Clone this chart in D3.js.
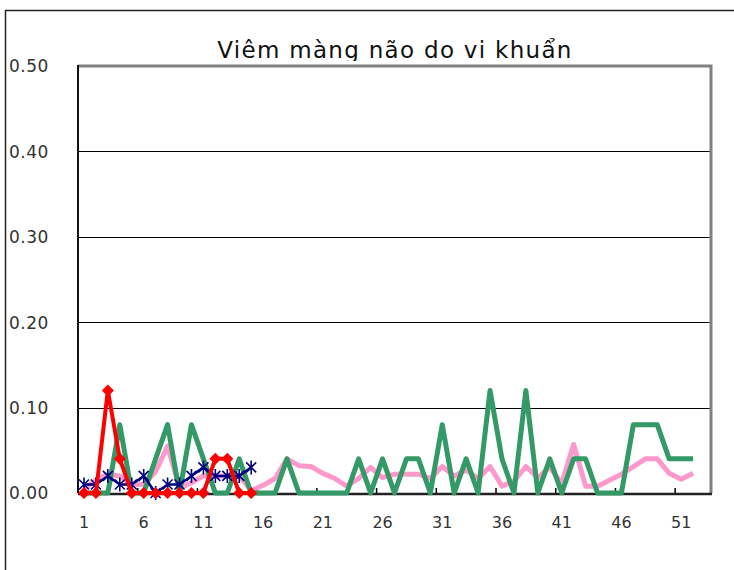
<!DOCTYPE html>
<html>
<head>
<meta charset="utf-8">
<script src="https://cdn.jsdelivr.net/npm/d3@7"></script>
<style>
  body { margin: 0; background: #fff; }
  svg { display: block; font-family: "DejaVu Sans", sans-serif; }
</style>
</head>
<body>
<div id="chart"></div>
<script>
// weeks 1..53 on the category axis
const weeks = d3.range(1, 54);
const tickWeeks = [1, 6, 11, 16, 21, 26, 31, 36, 41, 46, 51];
const title = "Viêm màng não do vi khuẩn";

// series values, one per week (shorter series stop early)
const navy = [0.01, 0.01, 0.02, 0.01, 0.01, 0.02, 0, 0.01, 0.01, 0.02, 0.03, 0.02, 0.02, 0.02, 0.03];
const red = [0, 0, 0.12, 0.04, 0, 0, 0, 0, 0, 0, 0, 0.04, 0.04, 0, 0];
const pink = [0.005, 0.015, 0.022, 0.02, 0.01, 0.01, 0.025, 0.055, 0.006, 0.012,
  0.02, 0.02, 0.02, 0.02, 0.003, 0.009, 0.017, 0.04, 0.032, 0.031,
  0.023, 0.017, 0.008, 0.017, 0.03, 0.018, 0.022, 0.022, 0.022, 0.017,
  0.031, 0.02, 0.027, 0.017, 0.031, 0.008, 0.014, 0.031, 0.018, 0.03,
  0.011, 0.057, 0.008, 0.008, 0.015, 0.022, 0.031, 0.04, 0.04, 0.023,
  0.016, 0.023];
const green = [0, 0, 0, 0.08, 0, 0, 0.04, 0.08, 0, 0.08,
  0.04, 0, 0, 0.04, 0, 0, 0, 0.04, 0, 0,
  0, 0, 0, 0.04, 0, 0.04, 0, 0.04, 0.04, 0,
  0.08, 0, 0.04, 0, 0.12, 0.04, 0, 0.12, 0, 0.04,
  0, 0.04, 0.04, 0, 0, 0, 0.08, 0.08, 0.08, 0.04,
  0.04, 0.04];

const width = 734;
const height = 570;
const plot = {left: 78, top: 66, right: 711, bottom: 493};

const svg = d3.select("#chart").append("svg")
  .attr("width", width)
  .attr("height", height);

// chart frame (only top and left edges are inside the window)
svg.append("path")
  .attr("d", `M5.5,${height} V10.5 H${width}`)
  .attr("fill", "none")
  .attr("stroke", "#222")
  .attr("stroke-width", 1.5);

const x = d3.scaleBand(weeks, [plot.left, plot.right]).padding(0);
const y = d3.scaleLinear([0, 0.5], [plot.bottom, plot.top]);
const cx = d => x(d) + x.bandwidth() / 2;

// gridlines
svg.append("g")
  .selectAll("line")
  .data(y.ticks(5).filter(d => d > 0 && d < 0.5))
  .join("line")
  .attr("x1", plot.left)
  .attr("x2", plot.right)
  .attr("y1", d => Math.round(y(d)) + 0.5)
  .attr("y2", d => Math.round(y(d)) + 0.5)
  .attr("stroke", "#000")
  .attr("stroke-width", 1.2);

// plot border: grey top/right, black axes left/bottom
svg.append("path")
  .attr("d", `M${plot.left},${plot.top} H${plot.right} V${plot.bottom}`)
  .attr("fill", "none")
  .attr("stroke", "#808080")
  .attr("stroke-width", 3);

svg.append("line")
  .attr("x1", plot.left).attr("x2", plot.left)
  .attr("y1", plot.top - 1).attr("y2", plot.bottom)
  .attr("stroke", "#111").attr("stroke-width", 2);

svg.append("line")
  .attr("x1", plot.left).attr("x2", plot.right + 1)
  .attr("y1", plot.bottom + 1).attr("y2", plot.bottom + 1)
  .attr("stroke", "#222").attr("stroke-width", 2.5);

// x tick marks at category boundaries, pointing inward
svg.append("g")
  .selectAll("line")
  .data(tickWeeks)
  .join("line")
  .attr("x1", d => x(d))
  .attr("x2", d => x(d))
  .attr("y1", plot.bottom - 5)
  .attr("y2", plot.bottom)
  .attr("stroke", "#000")
  .attr("stroke-width", 1.5);

// y labels sit against the left frame edge
svg.append("g")
  .selectAll("text")
  .data(y.ticks(5))
  .join("text")
  .attr("x", 9)
  .attr("y", d => y(d))
  .attr("dy", "0.38em")
  .attr("font-size", 17)
  .attr("letter-spacing", 0.5)
  .attr("fill", "#333")
  .text(d3.format(".2f"));

svg.append("g")
  .selectAll("text")
  .data(tickWeeks)
  .join("text")
  .attr("x", d => cx(d))
  .attr("y", 522)
  .attr("dy", "0.35em")
  .attr("text-anchor", "middle")
  .attr("font-size", 16)
  .attr("fill", "#333")
  .text(d => d);

// title, clipped by the plot top like the original
svg.append("clipPath")
  .attr("id", "title-clip")
  .append("rect")
  .attr("x", 0)
  .attr("y", 0)
  .attr("width", width)
  .attr("height", 61);

svg.append("text")
  .attr("clip-path", "url(#title-clip)")
  .attr("x", 395)
  .attr("y", 58)
  .attr("text-anchor", "middle")
  .attr("font-size", 23)
  .attr("letter-spacing", 1.3)
  .attr("fill", "#111")
  .text(title);

const line = d3.line()
  .x((d, i) => cx(weeks[i]))
  .y(d => y(d));

const drawLine = (values, color, w) => {
  svg.append("path")
    .attr("d", line(values))
    .attr("fill", "none")
    .attr("stroke", color)
    .attr("stroke-width", w)
    .attr("stroke-linejoin", "round");
}

drawLine(pink, "#ff99cc", 5);
drawLine(green, "#339966", 5);
drawLine(navy, "#000080", 2.5);

// asterisk markers
svg.append("g")
  .selectAll("path")
  .data(navy)
  .join("path")
  .attr("transform", (d, i) => `translate(${cx(weeks[i])},${y(d)})`)
  .attr("d", "M-5,-5L5,5M-5,5L5,-5M0,-7V7")
  .attr("stroke", "#000080")
  .attr("stroke-width", 1.6)
  .attr("fill", "none");

drawLine(red, "#ff0000", 4);

// diamond markers
svg.append("g")
  .selectAll("path")
  .data(red)
  .join("path")
  .attr("transform", (d, i) => `translate(${cx(weeks[i])},${y(d)})`)
  .attr("d", "M0,-6L6,0L0,6L-6,0Z")
  .attr("fill", "#ff0000");
</script>
</body>
</html>
